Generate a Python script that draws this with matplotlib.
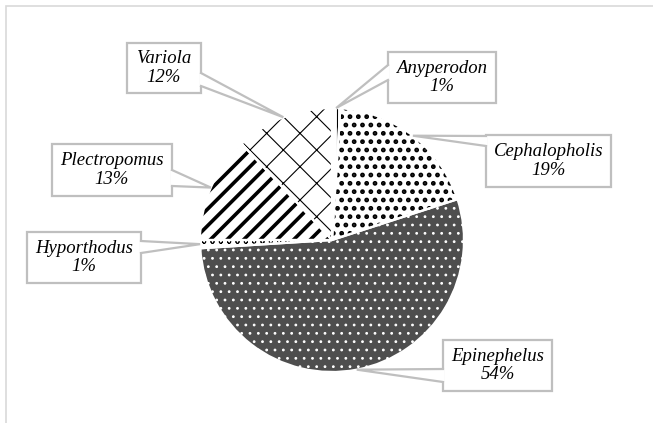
import matplotlib
matplotlib.use("Agg")
import numpy as np
import matplotlib.pyplot as plt
from matplotlib.patches import Rectangle, Polygon, Wedge

# Data
genera = ["Anyperodon", "Cephalopholis", "Epinephelus", "Hyporthodus", "Plectropomus", "Variola"]
shares = [1, 19, 54, 1, 13, 12]

# Layout (pixel coordinates, y down)
W, H = 653, 423
CENTER = (332, 240)
RADIUS = 132

# label boxes: x0, y0, x1, y1 and the side / y-range where the callout tail leaves the box
boxes = {
    "Anyperodon": (388, 52, 496, 103),
    "Cephalopholis": (486, 135, 611, 187),
    "Epinephelus": (443, 340, 552, 391),
    "Hyporthodus": (27, 232, 141, 283),
    "Plectropomus": (52, 144, 172, 196),
    "Variola": (127, 43, 201, 93),
}
tails = {
    "Anyperodon": ("left", 65, 80),
    "Cephalopholis": ("left", 136, 146),
    "Epinephelus": ("left", 369, 382),
    "Hyporthodus": ("right", 241, 253),
    "Plectropomus": ("right", 170, 186),
    "Variola": ("right", 73, 86),
}

# fill styles: facecolor, hatch, hatch colour, hatch linewidth
styles = {
    "Anyperodon": ("white", "||", "black", 0.8),
    "Cephalopholis": ("white", "..", "black", 2.2),
    "Epinephelus": ("#4e4e4e", "..", "white", 0.8),
    "Hyporthodus": ("white", "oo", "black", 0.6),
    "Plectropomus": ("white", "//", "black", 2.6),
    "Variola": ("white", "x", "black", 0.8),
}

BOX_EDGE = "#bfbfbf"
FRAME = "#d9d9d9"


def px(x, y):
    return x, H - y


fig = plt.figure(figsize=(W / 100, H / 100), dpi=100)
ax = fig.add_axes([0, 0, 1, 1])

# outer chart frame (only top and left edges visible in the crop)
ax.plot([6, 6, W + 5], [0, H - 6, H - 6], color=FRAME, linewidth=1.2,
        solid_joinstyle="miter")

cx, cy = px(*CENTER)
wedges, _ = ax.pie(shares, startangle=90, counterclock=False, center=(cx, cy),
                   radius=RADIUS, frame=True, wedgeprops=dict(linewidth=0))
ax.set_xlim(0, W)
ax.set_ylim(0, H)
ax.axis("off")

for w, name in zip(wedges, genera):
    face, hatch, hcol, hlw = styles[name]
    w.set_facecolor(face)
    w.set_edgecolor(hcol)
    w.set_linewidth(0)
    w.set_hatch(hatch)
    if hasattr(w, "set_hatch_linewidth"):
        w.set_hatch_linewidth(hlw)
    # white separators between slices
    ax.add_patch(Wedge(w.center, w.r, w.theta1, w.theta2, fill=False,
                       edgecolor="white", linewidth=1.6, zorder=3))

# callout labels
for w, name, share in zip(wedges, genera, shares):
    mid = np.deg2rad((w.theta1 + w.theta2) / 2)
    tip = (cx + RADIUS * np.cos(mid), cy + RADIUS * np.sin(mid))
    x0, y0, x1, y1 = boxes[name]
    side, ya, yb = tails[name]
    bx = x0 if side == "left" else x1
    inset = 1.5 if side == "left" else -1.5
    ax.add_patch(Rectangle(px(x0, y1), x1 - x0, y1 - y0, facecolor="white",
                           edgecolor=BOX_EDGE, linewidth=1.6, zorder=5))
    pa, pb = px(bx, ya), px(bx, yb)
    ax.add_patch(Polygon([(pa[0] + inset, pa[1]), tip, (pb[0] + inset, pb[1])],
                         closed=True, facecolor="white", edgecolor="none", zorder=6))
    ax.plot([pa[0], tip[0], pb[0]], [pa[1], tip[1], pb[1]], color=BOX_EDGE,
            linewidth=1.6, zorder=6, solid_joinstyle="miter")
    tx, ty = px((x0 + x1) / 2, (y0 + y1) / 2)
    ax.text(tx, ty, f"{name}\n{share}%", ha="center", va="center", fontsize=13.5,
            family="Liberation Serif", style="italic", linespacing=1.15, zorder=7)

fig.savefig("out.png", dpi=100)
